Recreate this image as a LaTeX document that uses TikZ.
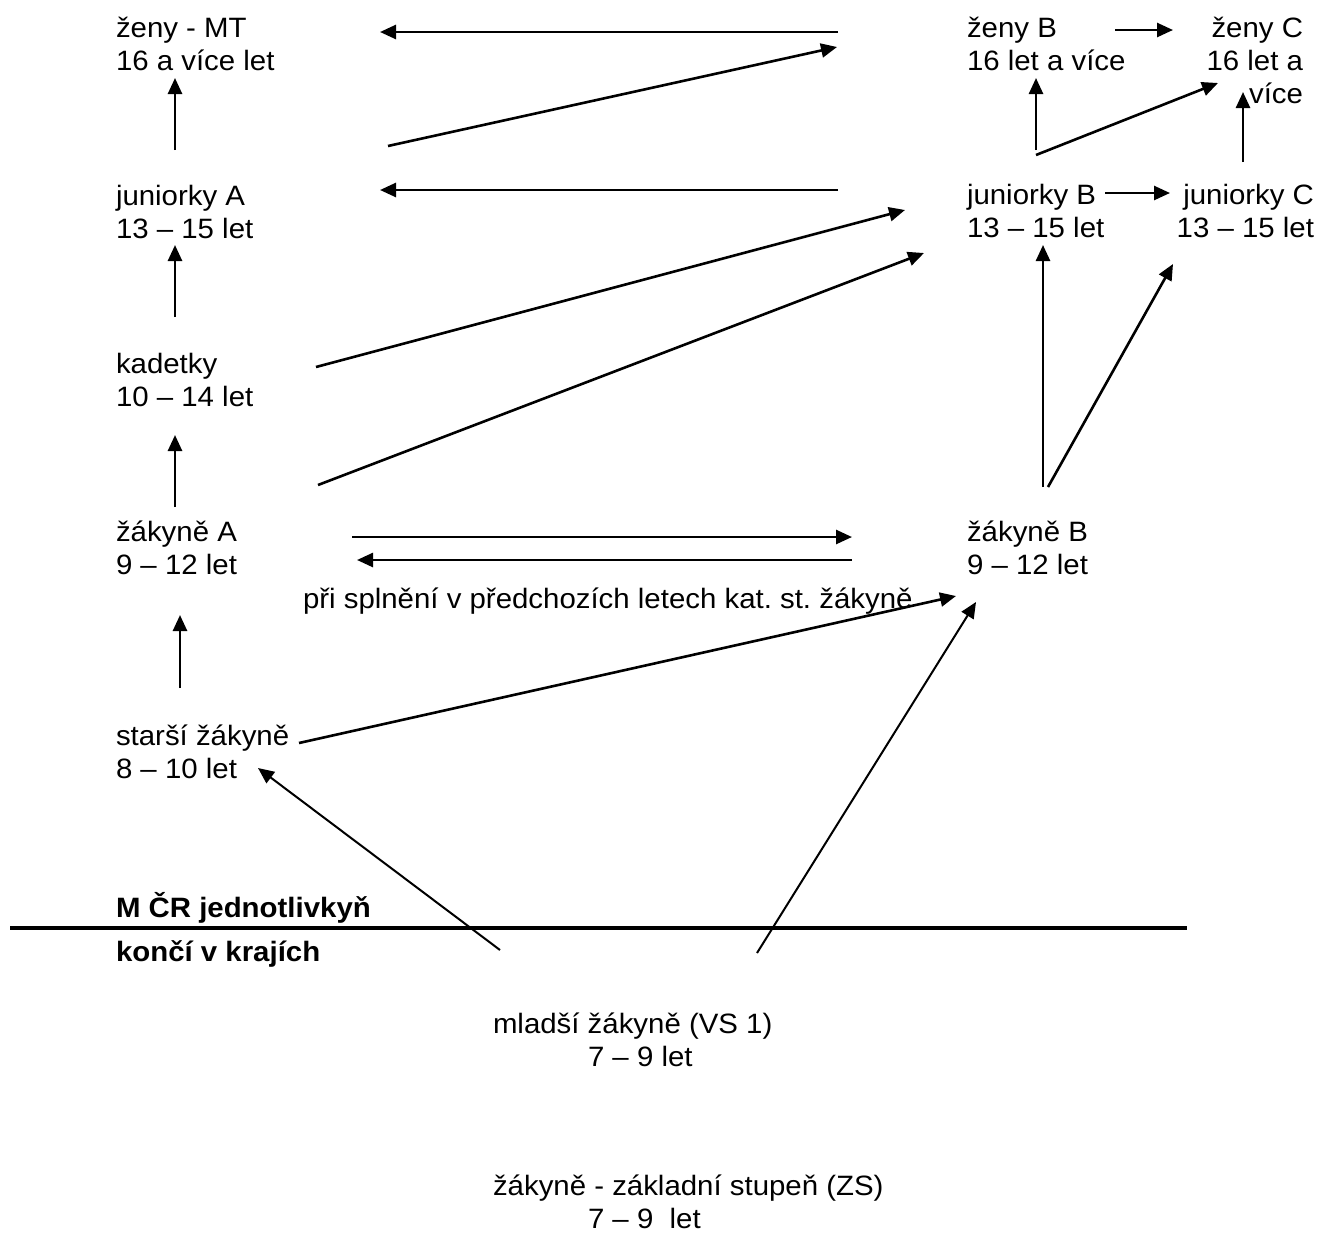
\documentclass[tikz,border=0pt]{standalone}
\usepackage{fontspec}
\setmainfont{Liberation Sans}[FakeStretch=1.05]
\usetikzlibrary{arrows.meta}
\frenchspacing
\newcommand\lblL[1]{\begin{tabular}[t]{@{}l@{}}#1\end{tabular}}
\newcommand\lblR[1]{\begin{tabular}[t]{@{}r@{}}#1\end{tabular}}
\begin{document}
\begin{tikzpicture}[x=1pt,y=-1pt,
  txt/.style={inner sep=0pt,outer sep=0pt,anchor=base west,font=\fontsize{28}{33}\selectfont\frenchspacing},
  txtr/.style={txt,anchor=base east},
  arr/.style={line width=2.6pt,-{Triangle[length=16pt,width=14pt]}},
  arrthin/.style={line width=2pt,-{Triangle[length=16pt,width=14pt]}},
  rule/.style={line width=4.5pt}]
\useasboundingbox (0,0) rectangle (1319,1235);
% labels
\node[txt] (zenyMT) at (116,37) {\lblL{ženy - MT\\16 a více let}};
\node[txt] (junA) at (116,205) {\lblL{juniorky A\\13 – 15 let}};
\node[txt] (kad) at (116,373) {\lblL{kadetky\\10 – 14 let}};
\node[txt] (zakA) at (116,541) {\lblL{žákyně A\\9 – 12 let}};
\node[txt] (star) at (116,745) {\lblL{starší žákyně\\8 – 10 let}};
\node[txt] (zenyB) at (967,37) {\lblL{ženy B\\16 let a více}};
\node[txtr] (zenyC) at (1303,37) {\lblR{ženy C\\16 let a\\více}};
\node[txt] (junB) at (967,204) {\lblL{juniorky B\\13 – 15 let}};
\node[txtr] (junC) at (1314,204) {\lblR{juniorky C\\13 – 15 let}};
\node[txt] (zakB) at (967,541) {\lblL{žákyně B\\9 – 12 let}};
\node[txt] (note) at (303,608) {při splnění v předchozích letech kat. st. žákyně};
\node[txt,font=\fontsize{28}{33}\selectfont\bfseries] (mcr) at (116,917) {M ČR jednotlivkyň};
\node[txt,font=\fontsize{28}{33}\selectfont\bfseries] (konci) at (116,961) {končí v krajích};
\node[txt] (mladsi) at (493,1033) {\vtop{\hbox{mladší žákyně (VS 1)}\hbox{\hspace*{95pt}7 – 9 let}}};
\node[txt] (zs) at (493,1195) {\vtop{\hbox{žákyně - základní stupeň (ZS)}\hbox{\hspace*{95pt}7 – 9\ \ let}}};
% connector end points
\coordinate (c1s) at (838,32);   \coordinate (c1e) at (380,32);
\coordinate (c2s) at (838,190);  \coordinate (c2e) at (380,190);
\coordinate (c3s) at (388,146);  \coordinate (c3e) at (837,47);
\coordinate (c4s) at (175,150);  \coordinate (c4e) at (175,78);
\coordinate (c5s) at (175,317);  \coordinate (c5e) at (175,245);
\coordinate (c6s) at (175,507);  \coordinate (c6e) at (175,435);
\coordinate (c7s) at (180,688);  \coordinate (c7e) at (180,615);
\coordinate (c8s) at (316,367);  \coordinate (c8e) at (905,210);
\coordinate (c9s) at (318,485);  \coordinate (c9e) at (924,253);
\coordinate (c10s) at (352,537); \coordinate (c10e) at (852,537);
\coordinate (c11s) at (852,560); \coordinate (c11e) at (357,560);
\coordinate (c12s) at (299,743); \coordinate (c12e) at (956,596);
\coordinate (c13s) at (500,950); \coordinate (c13e) at (258,768);
\coordinate (c14s) at (757,953); \coordinate (c14e) at (976,602);
\coordinate (c15s) at (1043,487);\coordinate (c15e) at (1043,245);
\coordinate (c16s) at (1048,487);\coordinate (c16e) at (1173,264);
\coordinate (c17s) at (1115,30); \coordinate (c17e) at (1173,30);
\coordinate (c18s) at (1036,150);\coordinate (c18e) at (1036,78);
\coordinate (c19s) at (1036,155);\coordinate (c19e) at (1218,83);
\coordinate (c20s) at (1243,162);\coordinate (c20e) at (1243,92);
\coordinate (c21s) at (1105,193);\coordinate (c21e) at (1170,193);
\coordinate (ruleL) at (10,928); \coordinate (ruleR) at (1187,928);
% connectors
\foreach \i in {1,...,12,15,16,17,18,19,20,21}{\draw[arr] (c\i s) -- (c\i e);}
\draw[arrthin] (c13s) -- (c13e);
\draw[arrthin] (c14s) -- (c14e);
\draw[rule] (ruleL) -- (ruleR);
\end{tikzpicture}
\end{document}
